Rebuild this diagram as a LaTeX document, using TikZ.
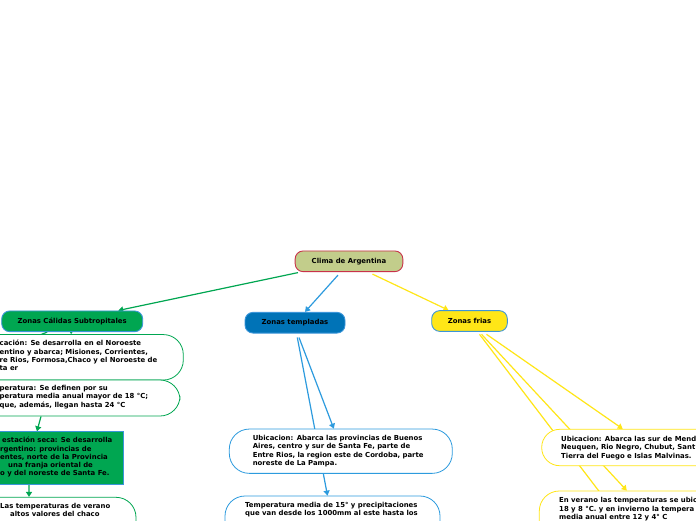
\documentclass[tikz,border=0pt]{standalone}
\usepackage{fontspec}
\setmainfont{DejaVu Sans}
\usetikzlibrary{arrows.meta,calc}
\pgfdeclarelayer{back}
\pgfdeclarelayer{edges}
\pgfsetlayers{back,edges,main}
\definecolor{cgreen}{HTML}{00A651}
\definecolor{cblue}{HTML}{2D9BDE}
\definecolor{cyellow}{HTML}{FFE617}
\definecolor{rootfill}{HTML}{C2CD8B}
\definecolor{rootdraw}{HTML}{C8324A}
\definecolor{tempfill}{HTML}{0073B7}
\definecolor{nodeborder}{HTML}{3B95D9}
\begin{document}
\begin{tikzpicture}[x=1pt,y=-1pt,
  every node/.style={font=\fontsize{6.9}{8.3}\selectfont\bfseries, text=black},
  topic/.style={draw, rounded corners=8pt, line width=0.9pt, minimum height=20.7pt, inner sep=0pt},
  sub/.style={draw, fill=white, rounded corners=20pt, line width=0.8pt, inner sep=0pt},
  lbl/.style={align=left, inner sep=0pt, anchor=north west},
  link/.style={line width=1.2pt, -{Triangle[length=5pt,width=6pt]}},
  plain/.style={line width=1.2pt},
]
\begin{pgfonlayer}{back}
\fill[white] (0,0) rectangle (696,520);
\end{pgfonlayer}
\useasboundingbox (0,0) rectangle (696,520);

% main topics
\node[topic, fill=rootfill, draw=rootdraw, minimum width=107.7pt] (root) at (349,261.3) {Clima de Argentina};
\node[topic, fill=cgreen, draw=nodeborder, minimum width=141pt] (cal) at (72.2,321.3) {Zonas Cálidas Subtropitales};
\node[topic, fill=tempfill, draw=nodeborder, minimum width=100pt] (tem) at (295,322.7) {Zonas templadas};
\node[topic, fill=cyellow, draw=nodeborder, minimum width=75.6pt] (fri) at (469.5,321) {Zonas frias};

% templadas children
\node[sub, draw=cblue, minimum width=223pt, minimum height=44.3pt, text width=176pt, align=left] (tub) at (340.8,451.2)
  {Ubicacion: Abarca las provincias de Buenos\\Aires, centro y sur de Santa Fe, parte de\\Entre Rios, la region este de Cordoba, parte\\noreste de La Pampa.};
\node[sub, draw=cblue, minimum width=215pt, minimum height=60pt] (ttm) at (332.5,526) {};
\node[lbl] (ttmt) at (245,502) {Temperatura media de 15° y precipitaciones\\que van desde los 1000mm al este hasta los};

% frias children
\node[sub, draw=cyellow, minimum width=180pt, minimum height=36.4pt, rounded corners=18pt] (fub) at (631.7,447.5) {};
\node[lbl] (fubt) at (561,436) {Ubicacion: Abarca las sur de Mend\\Neuquen, Rio Negro, Chubut, Sant\\Tierra del Fuego e Islas Malvinas.};
\node[sub, draw=cyellow, minimum width=181pt, minimum height=60pt] (fve) at (629.8,521) {};
\node[lbl] (fvet) at (559,497.5) {En verano las temperaturas se ubic\\18 y 8 °C. y en invierno la tempera\\media anual entre 12 y 4° C};

% calidas children
\node[sub, draw=cgreen, minimum width=243.3pt, minimum height=45.5pt] (cub) at (61.65,357.3) {};
\node[lbl] (cubt) at (-0.5,340) {cación: Se desarrolla en el Noroeste\\entino y abarca; Misiones, Corrientes,\\re Rios, Formosa,Chaco y el Noroeste de\\ta er};
\node[sub, draw=cgreen, minimum width=240pt, minimum height=36pt] (ctp) at (60,398) {};
\node[lbl] (ctpt) at (-0.5,385) {peratura: Se definen por su\\peratura media anual mayor de 18 °C;\\que, además, llegan hasta 24 °C};
\node[draw=nodeborder, fill=cgreen, line width=0.8pt, inner sep=0pt, minimum width=183.3pt, minimum height=52.6pt] (cgb) at (31.65,458) {};
\node[lbl] (cgbt) at (0,437) {\hspace*{2pt}estación seca: Se desarrolla\\rgentino: provincias de\\entes, norte de la Provincia\\\hspace*{8pt}una franja oriental de\\o y del noreste de Santa Fe.};
\node[sub, draw=cgreen, minimum width=196pt, minimum height=60pt] (clt) at (38,527.3) {};
\node[lbl] (cltt) at (0,503) {Las temperaturas de verano\\\hspace*{10pt}altos valores del chaco};

\coordinate (fhid) at (659,570);
\coordinate (chid) at (-100,390);

\begin{pgfonlayer}{edges}
\draw[link, cgreen] ([xshift=-51pt,yshift=-0.5pt]root.south) -- ([xshift=46pt]cal.north);
\draw[link, cblue] ([xshift=-11pt,yshift=-3pt]root.south) -- ([xshift=10pt]tem.north);
\draw[link, cyellow] ([xshift=23.5pt,yshift=-2pt]root.south) -- ([xshift=-21pt]fri.north);
\draw[link, cblue] ([xshift=4pt,yshift=-4pt]tem.south) -- ([xshift=-7pt]tub.north);
\draw[link, cblue] ([xshift=2.3pt,yshift=-4pt]tem.south) -- ([xshift=-5pt]ttm.north);
\draw[link, cyellow] ([xshift=17pt,yshift=-2.5pt]fri.south) -- ([xshift=-9pt]fub.north);
\draw[link, cyellow] ([xshift=12pt,yshift=-2.5pt]fri.south) -- ([xshift=-3pt]fve.north);
\draw[plain, cyellow] ([xshift=10pt,yshift=-2.5pt]fri.south) -- (fhid);
\draw[link, cgreen] ([xshift=-1pt]cal.south) -- ([xshift=-1pt]cal.south |- cub.north);
\draw[plain, cgreen] ([xshift=-25pt]cal.south) -- (chid);
\draw[link, cgreen] ([xshift=-19pt]ctp.south) -- ([xshift=5.3pt]cgb.north);
\draw[link, cgreen] ([xshift=-2.6pt]cgb.south) -- ([xshift=-9pt]clt.north);
\end{pgfonlayer}
\end{tikzpicture}
\end{document}
